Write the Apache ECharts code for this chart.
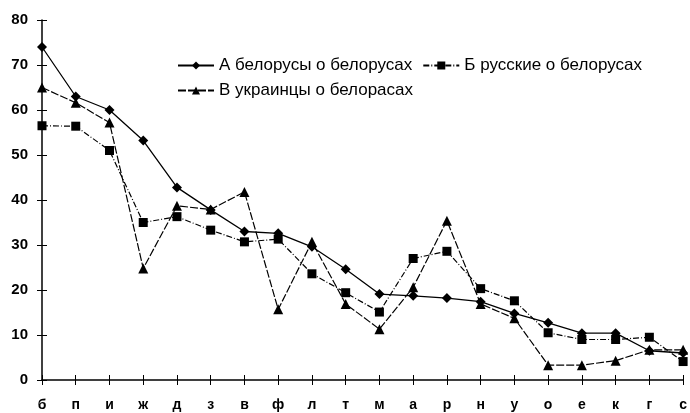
<!DOCTYPE html>
<html><head><meta charset="utf-8">
<script src="https://cdn.jsdelivr.net/npm/echarts@6/dist/echarts.min.js"></script>
<style>html,body{margin:0;padding:0;background:#fff}#c{width:690px;height:413px}</style>
</head><body><div id="c"></div>
<script>
const categories = ['б','п','и','ж','д','з','в','ф','л','т','м','а','р','н','у','о','е','к','г','с'];
const nameA = 'А белорусы о белорусах';
const nameB = 'Б русские о белорусах';
const nameC = 'В украинцы о белорасах';
const valuesA = [74, 63, 60, 53.2, 42.8, 37.8, 33, 32.6, 29.6, 24.6, 19.1, 18.7, 18.2, 17.4, 14.8, 12.7, 10.4, 10.4, 6.5, 6];
const valuesB = [56.5, 56.4, 51, 35, 36.3, 33.3, 30.7, 31.3, 23.6, 19.4, 15.1, 27, 28.6, 20.3, 17.6, 10.5, 9, 9, 9.5, 4.1];
const valuesC = [65, 61.6, 57.2, 24.8, 38.7, 37.9, 41.8, 15.7, 30.7, 16.9, 11.3, 20.6, 35.4, 16.9, 13.7, 3.3, 3.3, 4.3, 6.7, 6.7];
const yTicks = {min: 0, max: 80, interval: 10};

const chart = echarts.init(document.getElementById('c'), null, {renderer: 'canvas'});
const font = 'Liberation Sans, Arial, sans-serif';
const legendText = {fontFamily: font, fontSize: 17, color: '#000'};
chart.setOption({
  animation: false,
  backgroundColor: '#fff',
  grid: {left: 42, right: 6, top: 20, bottom: 33},
  legend: [
    {data: [nameA, nameB], left: 172, top: 52, itemWidth: 36, itemHeight: 10, itemGap: 10, textStyle: legendText},
    {data: [nameC], left: 172, top: 77, itemWidth: 36, itemHeight: 10, textStyle: legendText}
  ],
  xAxis: [
    {type: 'category', data: categories, boundaryGap: false,
     axisLine: {lineStyle: {color: '#000', width: 1.5}},
     axisTick: {show: true, length: 5, lineStyle: {color: '#000'}},
     axisLabel: {color: '#000', fontFamily: font, fontSize: 14, fontWeight: 'bold', margin: 18, interval: 0},
     splitLine: {show: false}},
    {type: 'category', data: categories, boundaryGap: false, position: 'bottom',
     axisLine: {show: false},
     axisTick: {show: true, inside: true, length: 5, lineStyle: {color: '#000'}},
     axisLabel: {show: false}, splitLine: {show: false}}
  ],
  yAxis: [
    {type: 'value', min: yTicks.min, max: yTicks.max, interval: yTicks.interval,
     axisLine: {show: true, lineStyle: {color: '#000', width: 1.5}},
     axisTick: {show: true, length: 5, lineStyle: {color: '#000'}},
     axisLabel: {color: '#000', fontFamily: font, fontSize: 15, fontWeight: 'bold', margin: 14},
     splitLine: {show: false}},
    {type: 'value', min: yTicks.min, max: yTicks.max, interval: yTicks.interval, position: 'left',
     axisLine: {show: false},
     axisTick: {show: true, inside: true, length: 5, lineStyle: {color: '#000'}},
     axisLabel: {show: false}, splitLine: {show: false}}
  ],
  series: [
    {name: nameA, type: 'line', data: valuesA, symbol: 'diamond', symbolSize: 10,
     lineStyle: {color: '#000', width: 1.3}, itemStyle: {color: '#000'}},
    {name: nameB, type: 'line', data: valuesB, symbol: 'rect', symbolSize: 9,
     lineStyle: {color: '#000', width: 1.2, type: [6, 2, 1, 2]}, itemStyle: {color: '#000'}},
    {name: nameC, type: 'line', data: valuesC, symbol: 'triangle', symbolSize: 10,
     lineStyle: {color: '#000', width: 1.2, type: [8, 2]}, itemStyle: {color: '#000'}}
  ]
});
</script></body></html>
